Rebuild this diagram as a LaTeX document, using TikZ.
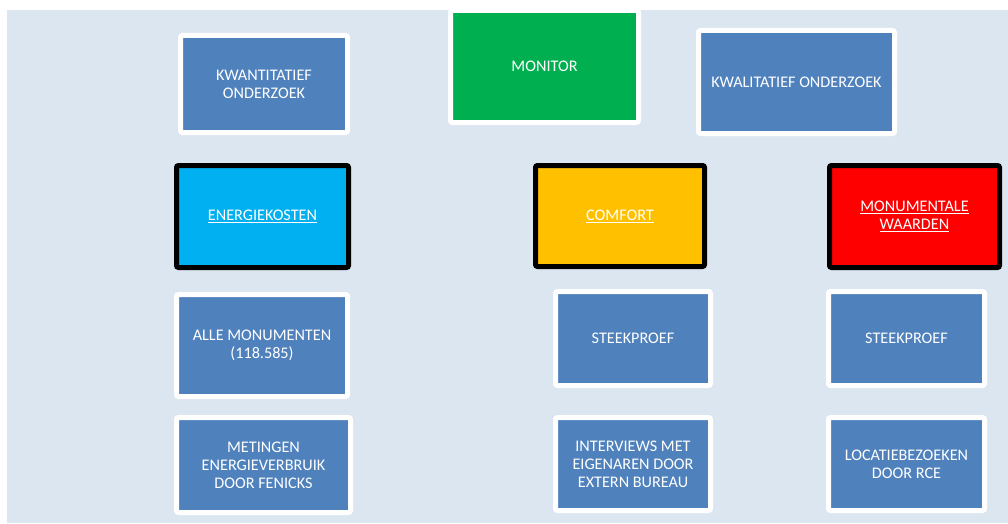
\documentclass[tikz,border=0pt]{standalone}
\usepackage{fontspec}
\setmainfont{Carlito}
\definecolor{bgblue}{HTML}{DCE6F1}
\definecolor{boxblue}{HTML}{4F81BD}
\definecolor{monitorgreen}{HTML}{00B050}
\definecolor{energiecyan}{HTML}{00B0F0}
\definecolor{comfortgold}{HTML}{FFC000}
\definecolor{waardered}{HTML}{FF0000}
\newcommand{\onderstreep}[1]{\underline{#1}}
\tikzset{
  onderzoek/.style={draw=white, line width=5pt, rounded corners=2pt, fill=boxblue,
    text=white, align=center, inner sep=0pt, font=\fontsize{16.2}{18}\selectfont},
  thema/.style={onderzoek, draw=black},
}
\begin{document}
\begin{tikzpicture}[x=1pt, y=-1pt]
\useasboundingbox (0,0) rectangle (1008,524);
\fill[bgblue] (7,10) rectangle (1008,523);

% bovenste rij
\node[onderzoek, minimum width=167pt, minimum height=97pt] (kwant) at (264,84) {KWANTITATIEF\\ONDERZOEK};
\node[onderzoek, fill=monitorgreen, minimum width=188pt, minimum height=112pt] (monitor) at (544.5,66.5) {MONITOR};
\node[onderzoek, minimum width=196pt, minimum height=103pt] (kwal) at (796.5,82) {KWALITATIEF ONDERZOEK};

% thema's
\node[thema, fill=energiecyan, minimum width=172pt, minimum height=102pt] (energie) at (262.5,216.5) {\onderstreep{ENERGIEKOSTEN}};
\node[thema, fill=comfortgold, minimum width=169pt, minimum height=101pt] (comfort) at (620,216) {\onderstreep{COMFORT}};
\node[thema, fill=waardered, minimum width=170pt, minimum height=102pt] (waarden) at (914.5,216.5) {\onderstreep{MONUMENTALE}\\\onderstreep{WAARDEN}};

% omvang
\node[onderzoek, minimum width=171pt, minimum height=102pt] (alle) at (262,345.5) {ALLE MONUMENTEN\\(118.585)};
\node[onderzoek, minimum width=155pt, minimum height=94pt] (steekA) at (633,338.5) {STEEKPROEF};
\node[onderzoek, minimum width=156pt, minimum height=94pt] (steekB) at (906.5,338.5) {STEEKPROEF};

% methode
\node[onderzoek, minimum width=174pt, minimum height=95pt] (metingen) at (263.5,465) {METINGEN\\ENERGIEVERBRUIK\\DOOR FENICKS};
\node[onderzoek, minimum width=155pt, minimum height=93pt] (interviews) at (633,464) {INTERVIEWS MET\\EIGENAREN DOOR\\EXTERN BUREAU};
\node[onderzoek, minimum width=156pt, minimum height=93pt] (bezoek) at (906.5,464) {LOCATIEBEZOEKEN\\DOOR RCE};

\end{tikzpicture}
\end{document}
